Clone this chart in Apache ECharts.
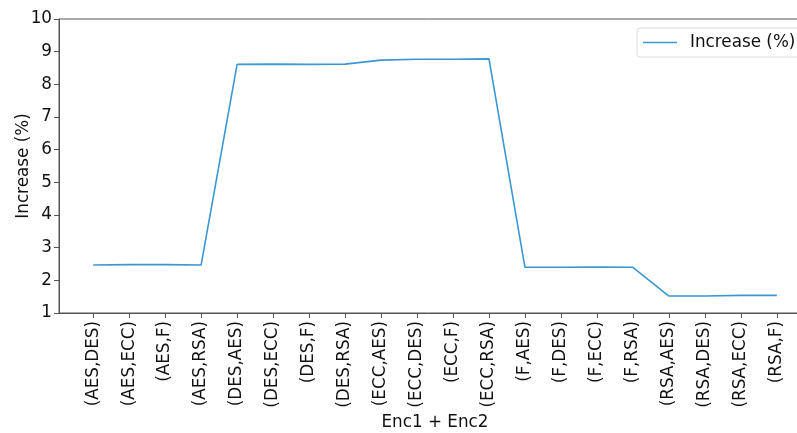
<!DOCTYPE html>
<html>
<head>
<meta charset="utf-8">
<script src="https://cdn.jsdelivr.net/npm/echarts@6/dist/echarts.min.js"></script>
<style>
  html, body { margin: 0; padding: 0; background: #fff; }
  #chart { width: 797px; height: 433px; }
</style>
</head>
<body>
<div id="chart"></div>
<script>
// Encryption pairs (Enc1, Enc2)
const categories = [
  '(AES,DES)', '(AES,ECC)', '(AES,F)', '(AES,RSA)',
  '(DES,AES)', '(DES,ECC)', '(DES,F)', '(DES,RSA)',
  '(ECC,AES)', '(ECC,DES)', '(ECC,F)', '(ECC,RSA)',
  '(F,AES)', '(F,DES)', '(F,ECC)', '(F,RSA)',
  '(RSA,AES)', '(RSA,DES)', '(RSA,ECC)', '(RSA,F)'
];
// Increase (%) for each pair
const increase = [
  2.47, 2.48, 2.48, 2.47,
  8.61, 8.62, 8.61, 8.62,
  8.74, 8.77, 8.77, 8.78,
  2.40, 2.40, 2.41, 2.40,
  1.52, 1.52, 1.54, 1.54
];
const yTicks = [1, 2, 3, 4, 5, 6, 7, 8, 9, 10];

const positions = categories.map((_, i) => i);
const seriesData = increase.map((v, i) => [i, v]);

const FONT = 'DejaVu Sans';
const FS = 16.8;
const AXIS = '#555';
const LINE = '#3a97d4';

const chart = echarts.init(document.getElementById('chart'), null, { renderer: 'canvas' });
chart.setOption({
  animation: false,
  backgroundColor: '#fff',
  textStyle: { fontFamily: FONT },
  grid: {
    left: 59, top: 19, width: 752, height: 294,
    outerBoundsMode: 'none',
    containLabel: false,
    show: true, borderColor: AXIS, borderWidth: 1
  },
  legend: {
    data: ['Increase (%)'],
    left: 637, top: 28,
    orient: 'horizontal',
    // thin horizontal stroke as the legend key
    icon: 'path://M0,0 L34,0 L34,1.6 L0,1.6 Z',
    itemWidth: 34, itemHeight: 1.6,
    padding: [6, 22, 6, 6],
    borderColor: '#dcdcdc', borderWidth: 1, borderRadius: 3,
    backgroundColor: '#fff',
    textStyle: { fontFamily: FONT, fontSize: FS, color: '#111', padding: [0, 0, 0, 8] }
  },
  xAxis: {
    type: 'value',
    min: -0.95, max: 19.95,
    name: 'Enc1 + Enc2',
    nameLocation: 'middle',
    nameGap: 101,
    nameMoveOverlap: false,
    nameTextStyle: { fontFamily: FONT, fontSize: FS, color: '#111' },
    splitLine: { show: false },
    axisLine: { show: true, onZero: false, lineStyle: { color: AXIS, width: 1 } },
    axisTick: { show: true, customValues: positions, length: 5, inside: false, lineStyle: { color: AXIS } },
    axisLabel: {
      customValues: positions,
      rotate: 90,
      margin: 8,
      fontFamily: FONT, fontSize: FS, color: '#111',
      formatter: v => categories[Math.round(v)]
    }
  },
  yAxis: {
    type: 'value',
    min: 1, max: 10, interval: 1,
    name: 'Increase (%)',
    nameLocation: 'middle',
    nameGap: 27,
    nameMoveOverlap: false,
    nameRotate: 90,
    nameTextStyle: { fontFamily: FONT, fontSize: FS, color: '#111' },
    splitLine: { show: false },
    axisLine: { show: true, onZero: false, lineStyle: { color: AXIS, width: 1 } },
    axisTick: { show: true, length: 5, lineStyle: { color: AXIS } },
    axisLabel: {
      margin: 7,
      fontFamily: FONT, fontSize: FS, color: '#111',
      formatter: v => (yTicks.includes(v) ? String(v) : '')
    }
  },
  series: [{
    name: 'Increase (%)',
    type: 'line',
    data: seriesData,
    showSymbol: false,
    symbol: 'none',
    lineStyle: { color: LINE, width: 1.6 },
    itemStyle: { color: LINE }
  }]
});
</script>
</body>
</html>
